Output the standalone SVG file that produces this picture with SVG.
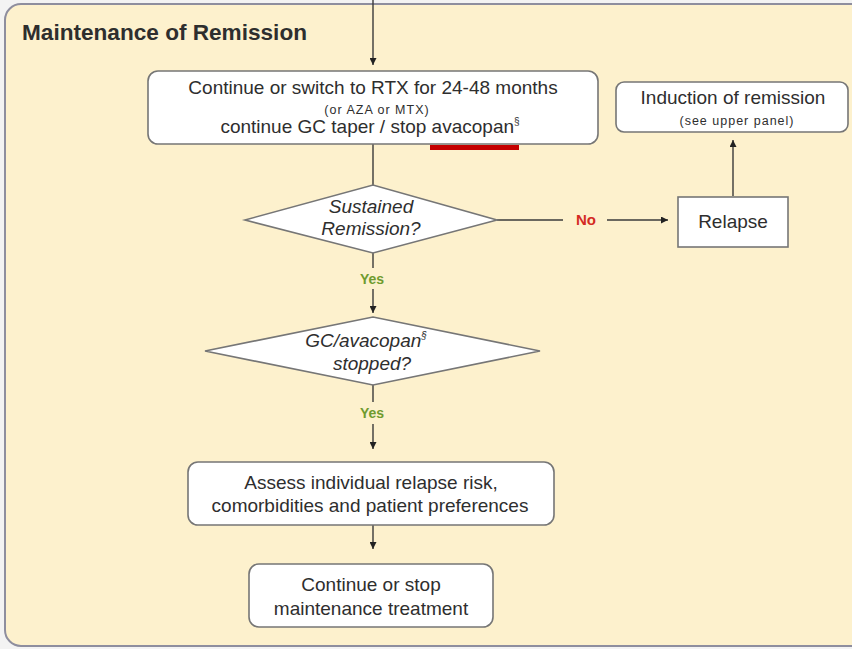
<svg xmlns="http://www.w3.org/2000/svg" width="852" height="649" viewBox="0 0 852 649">
  <style>
    .t { font-family: "Liberation Sans", Arial, sans-serif; fill: #2e2e2e; }
    .m { font-size: 19px; text-anchor: middle; }
    .s { font-size: 12.5px; text-anchor: middle; letter-spacing: 1px; }
    .i { font-style: italic; }
    .box { fill: #ffffff; stroke: #767676; stroke-width: 1.6; }
    .con { stroke: #3a3a3a; stroke-width: 1.4; fill: none; }
    .yes { font-family: "Liberation Sans", Arial, sans-serif; font-size: 14px; font-weight: bold; fill: #6f9b2f; text-anchor: middle; }
    .no { font-family: "Liberation Sans", Arial, sans-serif; font-size: 15px; font-weight: bold; fill: #d42a22; text-anchor: middle; }
  </style>
  <defs>
    <marker id="ah" viewBox="0 0 10 10" refX="10" refY="5" markerWidth="7" markerHeight="7" markerUnits="userSpaceOnUse" orient="auto">
      <path d="M0,0 L10,5 L0,10 z" fill="#222222"/>
    </marker>
  </defs>

  <rect x="0" y="0" width="852" height="649" fill="#f3f3f3"/>
  <g id="panel">
    <rect x="5" y="4" width="870" height="642" rx="16" ry="16" fill="#fdf1cd" stroke="#8e8e9e" stroke-width="2"/>
    <text class="t" x="22" y="40" font-size="22.6" font-weight="bold" fill="#222222">Maintenance of Remission</text>
  </g>

  <g id="connectors">
    <line class="con" x1="373" y1="0" x2="373" y2="65" marker-end="url(#ah)"/>
    <line class="con" x1="373" y1="144" x2="373" y2="186"/>
    <line class="con" x1="497" y1="220" x2="563" y2="220"/>
    <line class="con" x1="607" y1="220" x2="668" y2="220" marker-end="url(#ah)"/>
    <line class="con" x1="733" y1="196" x2="733" y2="140" marker-end="url(#ah)"/>
    <line class="con" x1="373" y1="253" x2="373" y2="268"/>
    <line class="con" x1="373" y1="289" x2="373" y2="313" marker-end="url(#ah)"/>
    <line class="con" x1="373" y1="385" x2="373" y2="402"/>
    <line class="con" x1="373" y1="424" x2="373" y2="449" marker-end="url(#ah)"/>
    <line class="con" x1="373" y1="525" x2="373" y2="549" marker-end="url(#ah)"/>
    <text class="no" x="586" y="225">No</text>
    <text class="yes" x="372" y="284">Yes</text>
    <text class="yes" x="372" y="418">Yes</text>
  </g>

  <g id="continue-rtx">
    <rect class="box" x="148" y="71" width="450" height="73" rx="10" ry="10"/>
    <text class="t m" x="373" y="94">Continue or switch to RTX for 24-48 months</text>
    <text class="t s" x="377" y="114">(or AZA or MTX)</text>
    <text class="t m" x="370" y="133">continue GC taper / stop avacopan<tspan font-size="10" dy="-8">§</tspan></text>
    <rect x="430" y="145" width="89" height="5" fill="#c40000"/>
  </g>

  <g id="induction">
    <rect class="box" x="616" y="82" width="232" height="50" rx="8" ry="8"/>
    <text class="t m" x="733" y="104">Induction of remission</text>
    <text class="t s" x="737" y="125" letter-spacing="1.2">(see upper panel)</text>
  </g>

  <g id="relapse">
    <rect class="box" x="678" y="197" width="110" height="50"/>
    <text class="t m" x="733" y="228">Relapse</text>
  </g>

  <g id="sustained-remission">
    <polygon class="box" points="245,220 373,185 497,220 373,253"/>
    <text class="t m i" x="371" y="213">Sustained</text>
    <text class="t m i" x="371" y="235">Remission?</text>
  </g>

  <g id="gc-stopped">
    <polygon class="box" points="205,351 373,317 540,351 373,385"/>
    <text class="t m i" x="366" y="347">GC/avacopan<tspan font-size="10" dy="-8">§</tspan></text>
    <text class="t m i" x="372" y="370">stopped?</text>
  </g>

  <g id="assess">
    <rect class="box" x="188" y="462" width="366" height="63" rx="10" ry="10"/>
    <text class="t m" x="371" y="489">Assess individual relapse risk,</text>
    <text class="t m" x="370" y="512">comorbidities and patient preferences</text>
  </g>

  <g id="continue-stop">
    <rect class="box" x="249" y="564" width="244" height="63" rx="10" ry="10"/>
    <text class="t m" x="371" y="591">Continue or stop</text>
    <text class="t m" x="371" y="615">maintenance treatment</text>
  </g>
</svg>
